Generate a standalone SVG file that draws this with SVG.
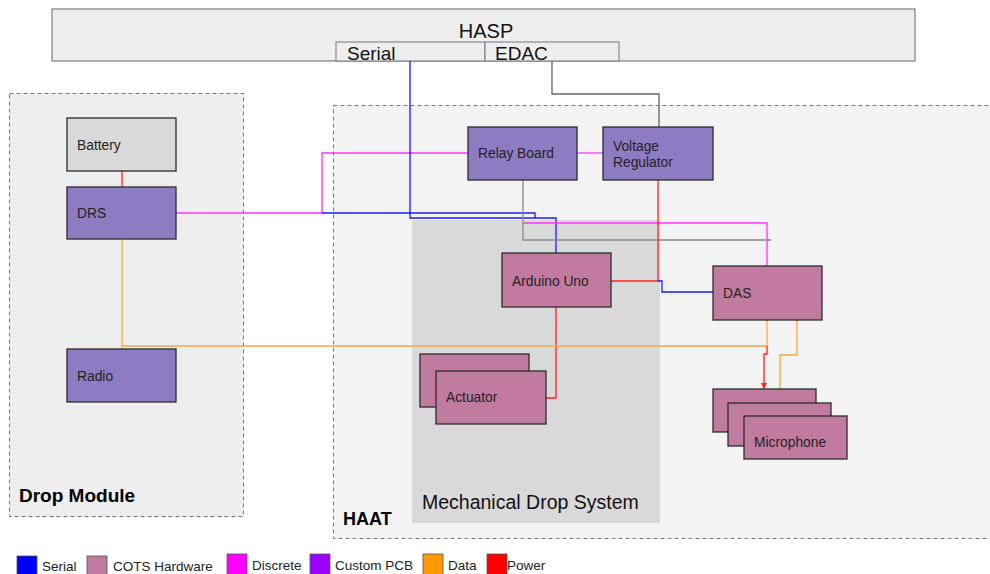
<svg xmlns="http://www.w3.org/2000/svg" width="990" height="574" viewBox="0 0 990 574">
  <style>
    text { font-family: "Liberation Sans", Arial, sans-serif; fill: #222; }
    .lbl { font-size: 13.8px; }
    .big { font-size: 19px; fill: #111; }
    .grp { font-weight: bold; fill: #000; }
    .leg { font-size: 13.5px; fill: #222; }
    .node { stroke: #2b2b2b; stroke-width: 1.3; }
    .pcb { fill: #8e7cc3; }
    .cots { fill: #c27ba0; }
    .cont { stroke: #777; stroke-width: 1; stroke-dasharray: 4 3; }
    .sw { stroke: #555; stroke-width: 0.8; }
    .w { fill: none; stroke-width: 1.3; }
    .serial { stroke: #1a1aff; }
    .disc { stroke: #ff33ff; }
    .data { stroke: #f6a93b; }
    .power { stroke: #ff2020; }
    .gray { stroke: #8a8a8a; }
  </style>
  <defs>
    <marker id="arr" viewBox="0 0 6 6" refX="5" refY="3" markerWidth="5" markerHeight="5" orient="auto">
      <path d="M0,0 L6,3 L0,6 z" fill="#ff2020"/>
    </marker>
  </defs>

  <rect width="990" height="574" fill="#ffffff"/>

  <!-- HASP -->
  <g id="hasp">
    <rect x="52" y="9" width="863" height="52" fill="#eeeeee" stroke="#666" stroke-width="1"/>
    <text x="486" y="38" text-anchor="middle" style="font-size:20px;fill:#111">HASP</text>
    <rect x="336" y="42" width="149" height="19" fill="#eeeeee" stroke="#777" stroke-width="1"/>
    <text class="big" x="347" y="60">Serial</text>
    <rect x="485" y="42" width="134" height="19" fill="#eeeeee" stroke="#777" stroke-width="1"/>
    <text class="big" x="495" y="60">EDAC</text>
  </g>

  <!-- containers -->
  <g id="drop-module">
    <rect class="cont" x="9.5" y="93.5" width="234" height="423" fill="#eeeeee"/>
    <text class="grp" x="19" y="502" style="font-size:19px">Drop Module</text>
  </g>
  <g id="haat">
    <rect class="cont" x="333.5" y="105.5" width="670" height="433" fill="#f3f3f3"/>
    <text class="grp" x="343" y="525" style="font-size:18px">HAAT</text>
  </g>
  <g id="mech-drop">
    <rect x="412" y="220" width="248" height="303" fill="#d9d9d9"/>
    <text x="422" y="509" style="font-size:19.5px;fill:#111">Mechanical Drop System</text>
  </g>

  <!-- connectors -->
  <g id="connectors">
    <path class="w power" d="M122,171 V187" stroke-width="2.2"/>
    <path class="w disc" d="M176,213 H322 V153 H468"/>
    <path class="w disc" d="M577,153 H603"/>
    <path class="w serial" d="M410,61 V218 H556 V253"/>
    <path class="w serial" d="M322,213 H535 V218"/>
    <path class="w disc" d="M523,223 H767 V266"/>
    <path class="w gray" d="M523,180 V240 H771"/>
    <path class="w" d="M552,61 V94 H659 V127" stroke="#666" stroke-width="2"/>
    <path class="w power" d="M658,180 V281 H611"/>
    <path class="w serial" d="M658,281 H662 V292 H713"/>
    <path class="w power" d="M556,307 V398 H546"/>
    <path class="w data" d="M122,239 V349"/>
    <path class="w data" d="M122,346 H767 V320"/>
    <path class="w power" d="M767,346 V354 H764 V388" marker-end="url(#arr)"/>
    <path class="w data" d="M797,308 V355 H780 V403"/>
  </g>

  <!-- nodes -->
  <g id="battery">
    <rect class="node" x="67" y="118" width="109" height="53" fill="#d9d9d9"/>
    <text class="lbl" x="77" y="150">Battery</text>
  </g>
  <g id="drs">
    <rect class="node pcb" x="67" y="187" width="109" height="52"/>
    <text class="lbl" x="77" y="218">DRS</text>
  </g>
  <g id="radio">
    <rect class="node pcb" x="67" y="349" width="109" height="53"/>
    <text class="lbl" x="77" y="381">Radio</text>
  </g>
  <g id="relay-board">
    <rect class="node pcb" x="468" y="127" width="109" height="53"/>
    <text class="lbl" x="478" y="158">Relay Board</text>
  </g>
  <g id="voltage-regulator">
    <rect class="node pcb" x="603" y="127" width="110" height="53"/>
    <text class="lbl" x="613" y="151">Voltage</text>
    <text class="lbl" x="613" y="167">Regulator</text>
  </g>
  <g id="arduino-uno">
    <rect class="node cots" x="502" y="253" width="109" height="54"/>
    <text class="lbl" x="512" y="286">Arduino Uno</text>
  </g>
  <g id="das">
    <rect class="node cots" x="713" y="266" width="109" height="54"/>
    <text class="lbl" x="723" y="298">DAS</text>
  </g>
  <g id="actuator">
    <rect class="node cots" x="420" y="354" width="109" height="53"/>
    <rect class="node cots" x="436" y="371" width="110" height="53"/>
    <text class="lbl" x="446" y="402">Actuator</text>
  </g>
  <g id="microphone">
    <rect class="node cots" x="713" y="389" width="103" height="43"/>
    <rect class="node cots" x="728" y="403" width="103" height="43"/>
    <rect class="node cots" x="744" y="416" width="103" height="43"/>
    <text class="lbl" x="754" y="447">Microphone</text>
  </g>

  <!-- legend -->
  <g id="legend">
    <rect class="sw" x="17" y="556" width="20" height="21" fill="#0000ff"/>
    <text class="leg" x="42" y="571">Serial</text>
    <rect class="sw" x="87" y="556" width="20" height="21" fill="#c27ba0"/>
    <text class="leg" x="113" y="571">COTS Hardware</text>
    <rect class="sw" x="227" y="554" width="20" height="22" fill="#ff00ff"/>
    <text class="leg" x="252" y="570">Discrete</text>
    <rect class="sw" x="310" y="554" width="20" height="22" fill="#9900ff"/>
    <text class="leg" x="335" y="570">Custom PCB</text>
    <rect class="sw" x="423" y="554" width="20" height="22" fill="#ff9900"/>
    <text class="leg" x="448" y="570">Data</text>
    <rect class="sw" x="487" y="554" width="20" height="22" fill="#ff0000"/>
    <text class="leg" x="507" y="570">Power</text>
  </g>
</svg>
